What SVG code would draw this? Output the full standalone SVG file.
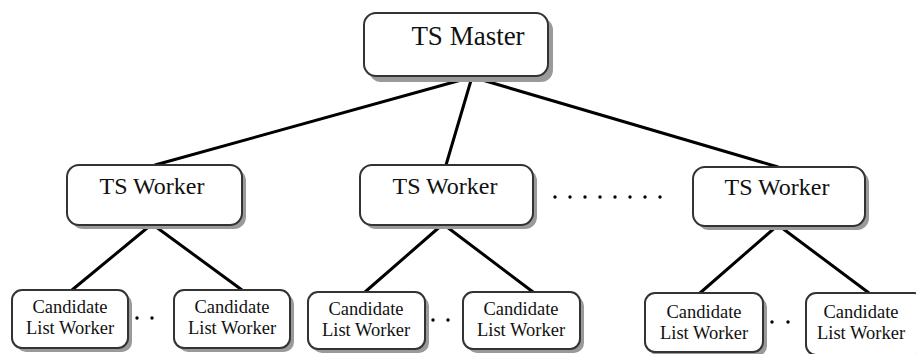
<svg xmlns="http://www.w3.org/2000/svg" width="916" height="354" viewBox="0 0 916 354">
<defs>
<style>
.box{fill:#fff;stroke:#333;stroke-width:2}
.sh{fill:#9a9a9a}
.t{font-family:"Liberation Serif","Times New Roman",serif;fill:#111;text-anchor:middle}
.big{font-size:27px}
.mid{font-size:24px}
.sm{font-size:18.5px}
.ln{stroke:#000;stroke-width:3;fill:none;stroke-linecap:round}
.dot{fill:#000}
</style>
</defs>
<rect width="916" height="354" fill="#fff"/>
<g id="connectors">
<line class="ln" x1="472" y1="77" x2="155" y2="165"/>
<line class="ln" x1="472" y1="77" x2="446" y2="165"/>
<line class="ln" x1="472" y1="77" x2="778" y2="167"/>
<line class="ln" x1="152" y1="224" x2="72" y2="290"/>
<line class="ln" x1="152" y1="224" x2="242" y2="290"/>
<line class="ln" x1="443" y1="224" x2="365" y2="292"/>
<line class="ln" x1="443" y1="224" x2="533" y2="292"/>
<line class="ln" x1="778" y1="225" x2="700" y2="293"/>
<line class="ln" x1="778" y1="225" x2="869" y2="293"/>
</g>
<g id="master">
<rect class="sh" x="369" y="18" width="184" height="64" rx="12"/>
<rect class="box" x="364" y="13" width="184" height="63" rx="12"/>
<text class="t big" x="468" y="45">TS Master</text>
</g>
<g id="worker1">
<rect class="sh" x="71" y="169" width="175" height="60" rx="12"/>
<rect class="box" x="67" y="165" width="175" height="60" rx="12"/>
<text class="t mid" x="152" y="194">TS Worker</text>
</g>
<g id="worker2">
<rect class="sh" x="364" y="169" width="173" height="60" rx="12"/>
<rect class="box" x="360" y="165" width="173" height="60" rx="12"/>
<text class="t mid" x="445" y="194">TS Worker</text>
</g>
<g id="worker3">
<rect class="sh" x="697" y="171" width="172" height="59" rx="12"/>
<rect class="box" x="693" y="167" width="172" height="59" rx="12"/>
<text class="t mid" x="777" y="195">TS Worker</text>
</g>
<g id="dots-top">
<circle class="dot" cx="555" cy="197" r="1.7"/>
<circle class="dot" cx="570" cy="197" r="1.7"/>
<circle class="dot" cx="585" cy="197" r="1.7"/>
<circle class="dot" cx="600" cy="197" r="1.7"/>
<circle class="dot" cx="615" cy="197" r="1.7"/>
<circle class="dot" cx="630" cy="197" r="1.7"/>
<circle class="dot" cx="645" cy="197" r="1.7"/>
<circle class="dot" cx="660" cy="197" r="1.7"/>
</g>
<g id="cand1">
<rect class="sh" x="16" y="294" width="116" height="58" rx="10"/>
<rect class="box" x="12" y="290" width="116" height="58" rx="10"/>
<text class="t sm" x="70" y="313">Candidate</text>
<text class="t sm" x="70" y="334">List Worker</text>
</g>
<g id="cand2">
<rect class="sh" x="178" y="294" width="116" height="58" rx="10"/>
<rect class="box" x="174" y="290" width="116" height="58" rx="10"/>
<text class="t sm" x="232" y="313">Candidate</text>
<text class="t sm" x="232" y="334">List Worker</text>
</g>
<g id="cand3">
<rect class="sh" x="312" y="296" width="117" height="57" rx="10"/>
<rect class="box" x="308" y="292" width="117" height="57" rx="10"/>
<text class="t sm" x="366" y="315">Candidate</text>
<text class="t sm" x="366" y="336">List Worker</text>
</g>
<g id="cand4">
<rect class="sh" x="467" y="296" width="117" height="57" rx="10"/>
<rect class="box" x="463" y="292" width="117" height="57" rx="10"/>
<text class="t sm" x="521" y="315">Candidate</text>
<text class="t sm" x="521" y="336">List Worker</text>
</g>
<g id="cand5">
<rect class="sh" x="649" y="297" width="118" height="59" rx="10"/>
<rect class="box" x="645" y="293" width="118" height="59" rx="10"/>
<text class="t sm" x="704" y="318">Candidate</text>
<text class="t sm" x="704" y="339">List Worker</text>
</g>
<g id="cand6">
<rect class="sh" x="810" y="297" width="118" height="62" rx="10"/>
<rect class="box" x="806" y="293" width="118" height="62" rx="10"/>
<text class="t sm" x="861" y="318">Candidate</text>
<text class="t sm" x="861" y="339">List Worker</text>
</g>
<g id="dots-bottom">
<circle class="dot" cx="137" cy="318" r="1.7"/>
<circle class="dot" cx="152" cy="318" r="1.7"/>
<circle class="dot" cx="433" cy="320" r="1.7"/>
<circle class="dot" cx="448" cy="320" r="1.7"/>
<circle class="dot" cx="772" cy="322" r="1.7"/>
<circle class="dot" cx="788" cy="322" r="1.7"/>
</g>
</svg>
